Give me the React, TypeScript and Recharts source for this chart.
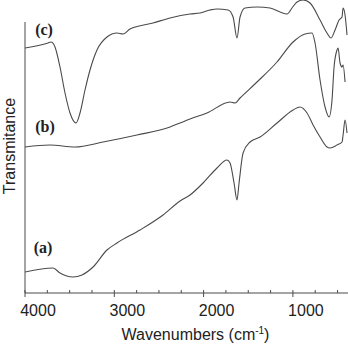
import React from 'react';
import { LineChart, Line, XAxis, YAxis, ReferenceLine, ReferenceDot } from 'recharts';

// Wavenumbers (cm-1) and transmittance (arbitrary units)
const waveC = [4000, 3742, 3709, 3664, 3608, 3552, 3496, 3429, 3384, 3328, 3272, 3194, 3082, 2970, 2902, 2824, 2566, 2376, 2152, 2040, 1928, 1850, 1726, 1670, 1626, 1592, 1536, 1402, 1256, 1144, 1066, 1010, 954, 886, 808, 696, 618, 573, 528, 483, 450, 438, 416, 394];
const transC = [245, 250, 251, 246, 226, 200, 180, 170, 180, 203, 223, 243, 256, 260, 259, 264, 270, 275, 279, 280, 283, 284, 283, 276, 255, 276, 285, 286, 285, 281, 279, 285, 291, 293, 290, 273, 260, 255, 263, 273, 276, 285, 278, 258];

const waveB = [4000, 3720, 3440, 3126, 2746, 2376, 2264, 2152, 1962, 1704, 1648, 1592, 1402, 1178, 998, 864, 786, 752, 696, 640, 595, 562, 539, 506, 494, 472, 450, 438, 416];
const transB = [146, 148, 146, 151, 158, 166, 170, 174, 180, 191, 190, 195, 211, 231, 251, 259, 260, 250, 213, 186, 176, 193, 226, 243, 245, 230, 226, 228, 211];

const waveA = [4000, 3686, 3608, 3462, 3362, 3238, 3082, 2970, 2712, 2454, 2264, 2152, 2006, 1850, 1738, 1704, 1659, 1626, 1603, 1558, 1480, 1368, 1178, 998, 920, 842, 774, 696, 618, 584, 506, 450, 438, 416, 394];
const transA = [21, 25, 20, 16, 18, 26, 43, 50, 63, 78, 92, 98, 110, 125, 133, 130, 110, 93, 110, 140, 151, 156, 170, 183, 186, 180, 168, 156, 146, 145, 148, 151, 158, 173, 160];

const xTicks = [4000, 3750, 3500, 3250, 3000, 2750, 2500, 2250, 2000, 1750, 1500, 1250, 1000, 750, 500];
const curveLabels = ['(a)', '(b)', '(c)'];
const labelWave = [3798, 3776, 3787];
const labelTrans = [46, 167, 264];

const build = (w: number[], t: number[]) => w.map((x, i) => ({ w: x, v: t[i] }));
const dataA = build(waveA, transA);
const dataB = build(waveB, transB);
const dataC = build(waveC, transC);

const LINE = '#4a4a4a';
const TEXT = '#222';
const SANS = '"Liberation Sans", Arial, sans-serif';
const SERIF = '"Liberation Serif", "Times New Roman", serif';

const XTick = (props: any) => {
  const { x, y, payload } = props;
  const major = payload.value % 1000 === 0;
  return (
    <g>
      <line x1={x} x2={x} y1={y - 3} y2={major ? y + 4 : y} stroke={LINE} strokeWidth={1} />
      {major && (
        <text x={x + 13} y={y + 23} textAnchor="middle" fontSize={16} fill={TEXT} fontFamily={SANS}>
          {payload.value}
        </text>
      )}
    </g>
  );
};

const XLabel = (props: any) => {
  const vb = props.viewBox || {};
  const cx = (vb.x ?? 25) + (vb.width ?? 323) / 2 + 9;
  const base = (vb.y ?? 293) + 47;
  return (
    <text x={cx} y={base} textAnchor="middle" fontSize={16} fill={TEXT} fontFamily={SANS}>
      Wavenumbers (cm
      <tspan fontSize={10} dy={-6}>-1</tspan>
      <tspan dy={6}>)</tspan>
    </text>
  );
};

export default function App() {
  return (
    <div style={{ position: 'absolute', left: 0, top: 0, width: 348, height: 344, background: '#fff' }}>
      <LineChart width={348} height={344} margin={{ top: 0, right: 0, left: 25, bottom: 0 }}>
        <XAxis
          dataKey="w"
          type="number"
          domain={[383, 4000]}
          reversed
          allowDataOverflow
          ticks={xTicks}
          interval={0}
          tickSize={0}
          tickMargin={0}
          tickLine={false}
          tick={<XTick />}
          axisLine={{ stroke: LINE, strokeWidth: 1 }}
          height={51}
          label={{ content: <XLabel /> }}
        />
        <YAxis type="number" domain={[0, 293]} allowDataOverflow hide />
        <ReferenceLine
          segment={[{ x: 4000, y: 0 }, { x: 4000, y: 271 }]}
          stroke={LINE}
          strokeWidth={1}
          ifOverflow="visible"
        />
        <Line data={dataA} dataKey="v" type="monotone" stroke={LINE} strokeWidth={1.1} dot={false} isAnimationActive={false} />
        <Line data={dataB} dataKey="v" type="monotone" stroke={LINE} strokeWidth={1.1} dot={false} isAnimationActive={false} />
        <Line data={dataC} dataKey="v" type="monotone" stroke={LINE} strokeWidth={1.1} dot={false} isAnimationActive={false} />
        {curveLabels.map((lab, i) => (
          <ReferenceDot
            key={lab}
            x={labelWave[i]}
            y={labelTrans[i]}
            r={0}
            stroke="none"
            fill="none"
            ifOverflow="visible"
            label={{ value: lab, position: 'center', fontSize: 16, fontWeight: 'bold', fill: TEXT, fontFamily: SERIF }}
          />
        ))}
        <text x={9} y={146} transform="rotate(-90 9 146)" textAnchor="middle" dominantBaseline="central" fontSize={16} fill={TEXT} fontFamily={SANS}>
          Transmitance
        </text>
      </LineChart>
    </div>
  );
}
